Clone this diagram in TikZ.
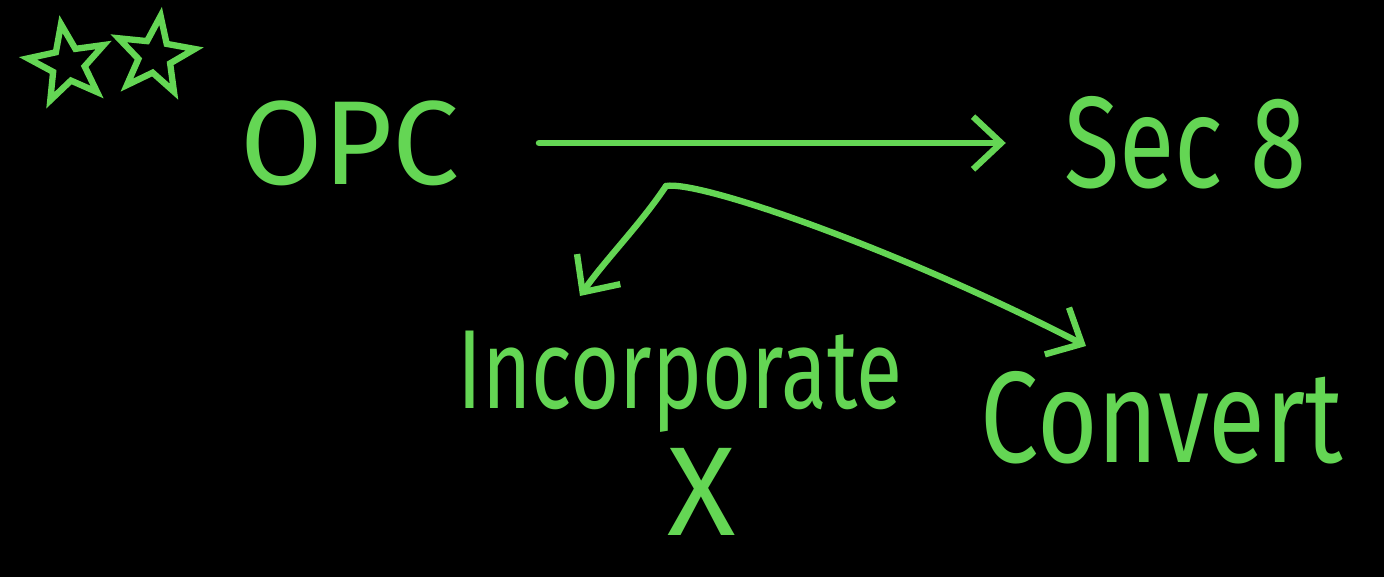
\documentclass[tikz,border=0pt]{standalone}
\usepackage{fontspec}
\setmainfont{Fira Sans}
\usetikzlibrary{arrows.meta,shapes.geometric}
\definecolor{chalk}{RGB}{100,214,84}
\begin{document}
\begin{tikzpicture}[x=0.02cm,y=-0.02cm,
  hand/.style={text=chalk, inner sep=0pt, anchor=center},
  conn/.style={draw=chalk, line width=3.6pt, line cap=round, line join=round,
    -{Straight Barb[length=16pt,width=30pt,line width=3.6pt]}},
  starmark/.style={star, star points=5, star point ratio=2.4, draw=chalk,
    line width=3.6pt, minimum size=46pt, inner sep=0pt}]
\fill[black] (0,0) rectangle (1384,577);
% scribbled stars
\node[starmark, rotate=10] (s1) at (68,64) {};
\node[starmark, rotate=-8] (s2) at (155,56) {};
% texts
\node[hand, font=\fontsize{68}{68}\selectfont] (opc) at (350,143) {OPC};
\node[hand, font=\fontsize{74}{74}\selectfont] (sec) at (1185,143) {\scalebox{0.78}[1]{Sec 8}};
\node[hand, font=\fontsize{64}{64}\selectfont] (inc) at (680,382) {\scalebox{0.75}[1]{Incorporate}};
\node[hand, font=\fontsize{74}{74}\selectfont] (con) at (1162,418) {\scalebox{0.8}[1]{Convert}};
\node[hand, font=\fontsize{72}{72}\selectfont] (x) at (702,492) {X};
% connectors
\draw[conn, shorten <=45pt, shorten >=33pt] (opc.east) -- (sec.west);
\coordinate (fork) at (666,186);
\coordinate (inctip) at (580,296);
\coordinate (contip) at (1086,346);
\draw[conn] (fork) .. controls (640,225) and (605,260) .. (inctip);
\draw[conn] (fork) .. controls (700,180) and (900,250) .. (contip);
\end{tikzpicture}
\end{document}
